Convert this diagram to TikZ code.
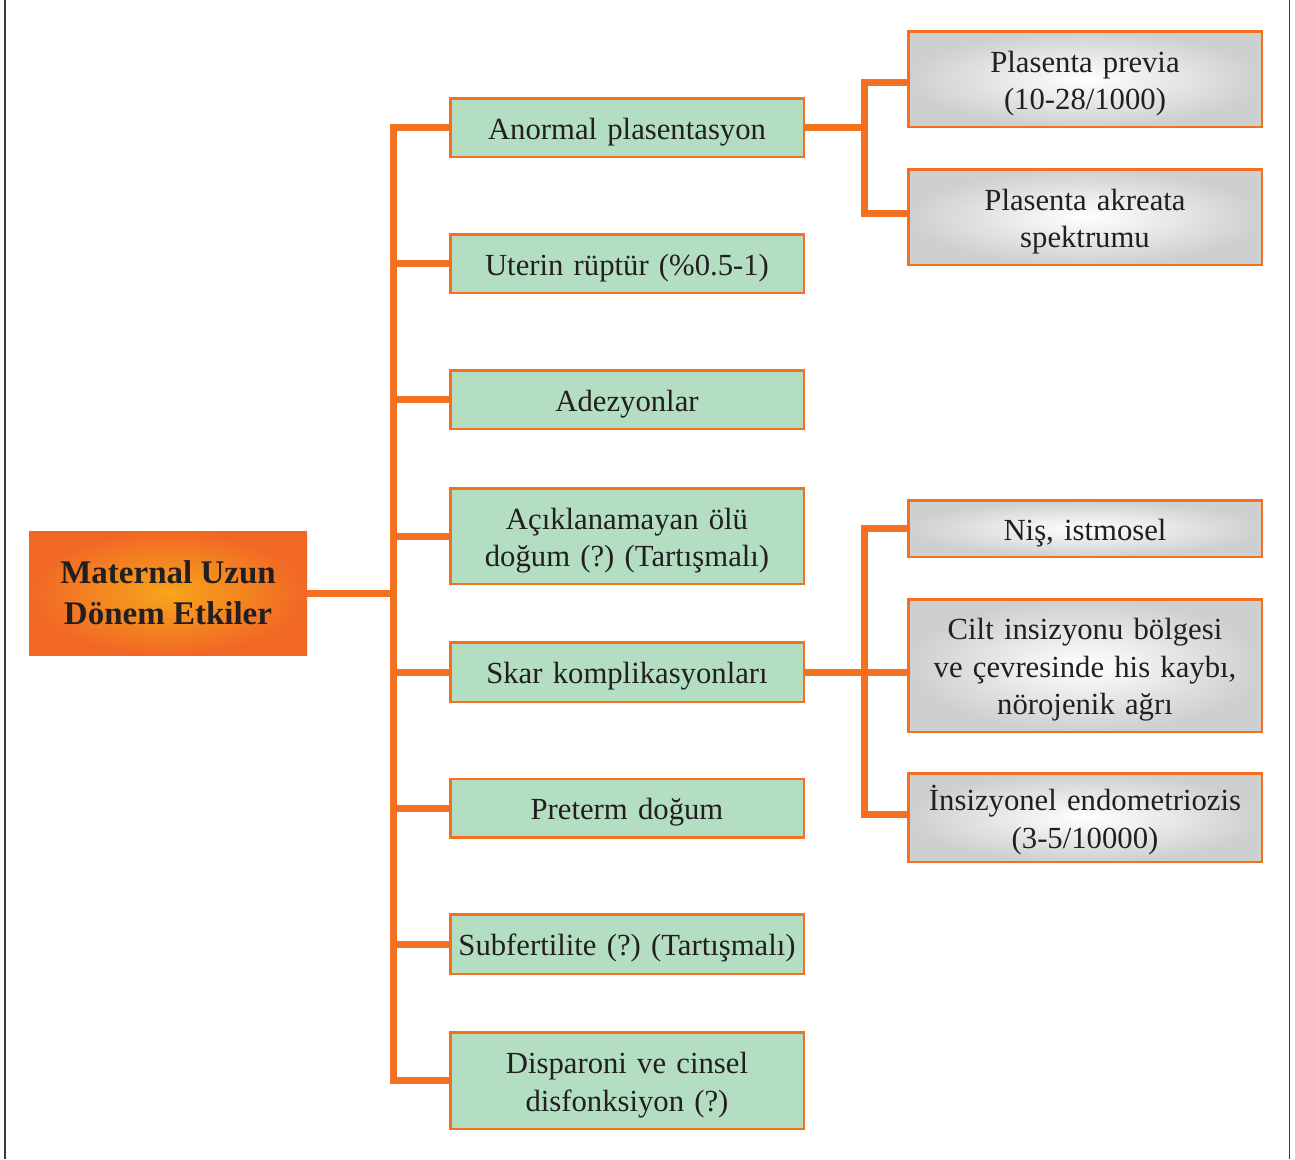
\documentclass[tikz,border=0pt]{standalone}
\usepackage{fontspec}
\setmainfont{Liberation Serif}
\frenchspacing
\definecolor{orangeline}{HTML}{F37021}
\definecolor{greenfill}{HTML}{B3DEC1}
\definecolor{inktext}{HTML}{231F20}
\definecolor{grayedge}{HTML}{CDCFD0}
\definecolor{hotcore}{HTML}{F7A51B}
\definecolor{hotrim}{HTML}{F16825}
\definecolor{framegray}{HTML}{3A3A3A}
\newcommand{\topstrut}{\rule{0pt}{30.5pt}}

\begin{document}
\begin{tikzpicture}[x=1pt,y=-1pt,
  boxbase/.style={draw=orangeline, line width=2.5pt, inner sep=0pt,
    minimum width=353.5pt, text width=345pt, align=center,
    font=\fontsize{30.7}{37.5}\selectfont, text=inktext},
  effect/.style={boxbase, fill=greenfill},
  detail/.style={boxbase, inner color=white, outer color=grayedge},
  rootbox/.style={inner sep=0pt, minimum width=278pt, minimum height=124pt,
    inner color=hotcore, outer color=hotrim, align=center, text=inktext,
    font=\fontsize{33}{41}\selectfont\bfseries},
  link/.style={orangeline, line width=7pt, line join=miter}
]
\useasboundingbox (0,0) rectangle (1295,1159);

% side rules of the page frame
\draw[framegray, line width=1.6pt] (4.8,0) -- (4.8,1159);
\draw[framegray, line width=1.6pt] (1289.5,0) -- (1289.5,1159);

% root
\node[rootbox] (root) at (168,593) {Maternal Uzun\\Dönem Etkiler};

% first level
\node[effect, minimum height=58.5pt] (a1) at (627,127.5) {\topstrut Anormal plasentasyon};
\node[effect, minimum height=58.5pt] (a2) at (627,263.5) {\topstrut Uterin rüptür (\%0.5-1)};
\node[effect, minimum height=58.5pt] (a3) at (627,399.5) {\topstrut Adezyonlar};
\node[effect, minimum height=95.5pt] (a4) at (627,536) {\topstrut Açıklanamayan ölü\\doğum (?) (Tartışmalı)};
\node[effect, minimum height=59.5pt] (a5) at (627,672) {\topstrut Skar komplikasyonları};
\node[effect, minimum height=58.5pt] (a6) at (627,808) {\topstrut Preterm doğum};
\node[effect, minimum height=59.5pt] (a7) at (627,944) {\topstrut Subfertilite (?) (Tartışmalı)};
\node[effect, minimum height=96.5pt] (a8) at (627,1080.5) {\topstrut Disparoni ve cinsel\\disfonksiyon (?)};

% second level
\node[detail, minimum height=95.5pt] (b1) at (1085,79) {\topstrut Plasenta previa\\(10-28/1000)};
\node[detail, minimum height=95.5pt] (b2) at (1085,217) {\topstrut Plasenta akreata\\spektrumu};
\node[detail, minimum height=56.5pt] (c1) at (1085,528.5) {\topstrut Niş, istmosel};
\node[detail, minimum height=132.5pt] (c2) at (1085,665.5) {\topstrut Cilt insizyonu bölgesi\\ve çevresinde his kaybı,\\nörojenik ağrı};
\node[detail, minimum height=88.5pt] (c3) at (1085,817.5) {\topstrut İnsizyonel endometriozis\\(3-5/10000)};

% trunk positions
\coordinate (tk) at (393,0);
\coordinate (rk) at (864,0);

% main trunk
\draw[link] (root.east) -- (root.east -| tk);
\draw[link] (a1.west) -| (a8.west -| tk) -- (a8.west);
\foreach \n in {a2,a3,a4,a5,a6,a7}
  \draw[link] (\n.west -| tk) -- (\n.west);

% placentation branch
\draw[link] (a1.east) -- (a1.east -| rk);
\draw[link] ([yshift=-3pt]b1.west) -| ([yshift=4pt]b2.west -| rk) -- ([yshift=4pt]b2.west);

% scar branch
\draw[link] (a5.east) -- (a5.east -| c2.west);
\draw[link] (c1.west) -| ([yshift=3pt]c3.west -| rk) -- ([yshift=3pt]c3.west);
\end{tikzpicture}
\end{document}
